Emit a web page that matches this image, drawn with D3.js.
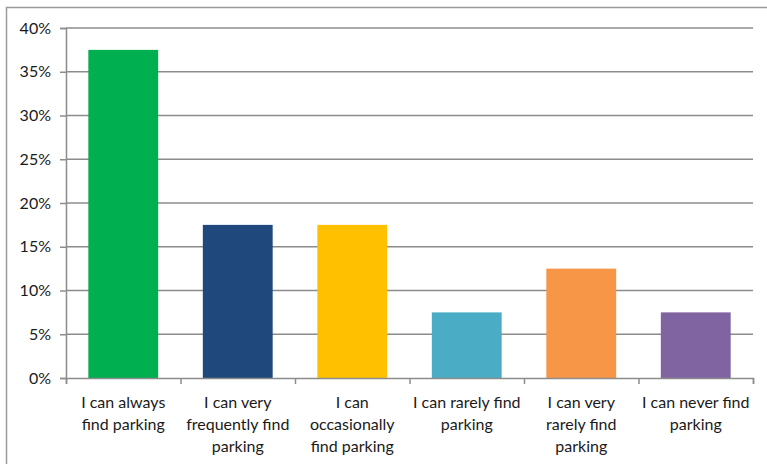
<!DOCTYPE html>
<html>
<head>
<meta charset="utf-8">
<script src="https://cdn.jsdelivr.net/npm/d3@7"></script>
<style>
  body { margin: 0; background: #fff; }
  text { font-family: Lato, "Open Sans", sans-serif; fill: #1a1a1a; }
</style>
</head>
<body>
<div id="chart"></div>
<script>
// chart data
var categories = [
    ["I can always", "find parking"],
    ["I can very", "frequently find", "parking"],
    ["I can", "occasionally", "find parking"],
    ["I can rarely find", "parking"],
    ["I can very", "rarely find", "parking"],
    ["I can never find", "parking"]
];
var values = [0.375, 0.175, 0.175, 0.075, 0.125, 0.075];
var colors = ["#00b050", "#1f497d", "#ffc000", "#4bacc6", "#f79646", "#8064a2"];
var yTicks = [0, 0.05, 0.10, 0.15, 0.20, 0.25, 0.30, 0.35, 0.40];

var W = 767, H = 464;
var margin = { top: 28, right: 14, bottom: 86, left: 66 };
var width = W - margin.left - margin.right,
    height = H - margin.top - margin.bottom;

var svg = d3.select("#chart").append("svg")
    .attr("width", W)
    .attr("height", H);

// outer frame (right and bottom edges fall outside the picture)
svg.append("rect")
    .attr("x", 6.5).attr("y", 7.5)
    .attr("width", W + 10).attr("height", H + 10)
    .attr("fill", "none")
    .attr("stroke", "#9a9a9a")
    .attr("stroke-width", 1.5);

var g = svg.append("g")
    .attr("transform", "translate(" + margin.left + "," + margin.top + ")");

var x = d3.scaleBand()
    .domain(d3.range(categories.length))
    .range([0, width])
    .paddingInner(0.39)
    .paddingOuter(0.195);

var y = d3.scaleLinear()
    .domain([0, 0.40])
    .range([height, 0]);

// gridlines
g.selectAll(".grid")
    .data(yTicks.slice(1))
    .enter().append("line")
    .attr("class", "grid")
    .attr("x1", 0).attr("x2", width)
    .attr("y1", d => y(d)).attr("y2", d => y(d))
    .attr("stroke", "#8c8c8c")
    .attr("stroke-width", 1.5);

// bars
g.selectAll(".bar")
    .data(values)
    .enter().append("rect")
    .attr("class", "bar")
    .attr("x", (d, i) => x(i))
    .attr("y", d => y(d))
    .attr("width", x.bandwidth())
    .attr("height", d => height - y(d))
    .attr("fill", (d, i) => colors[i]);

// y axis
var yAxis = g.append("g")
    .call(d3.axisLeft(y).tickValues(yTicks).tickFormat(d3.format(".0%")).tickSize(6).tickPadding(9));
yAxis.selectAll("text").style("font-size", "16px");

// x axis with ticks at band boundaries
var xb = d3.scaleLinear().domain([0, categories.length]).range([0, width]);
var xAxis = g.append("g")
    .attr("transform", "translate(0," + height + ")")
    .call(d3.axisBottom(xb).ticks(categories.length).tickFormat("").tickSize(6));

[yAxis, xAxis].forEach(function(a) {
    a.select(".domain").attr("stroke", "#8c8c8c").attr("stroke-width", 1.5);
    a.selectAll(".tick line").attr("stroke", "#8c8c8c").attr("stroke-width", 1.5);
});

// category labels
var labels = g.selectAll(".cat")
    .data(categories)
    .enter().append("text")
    .attr("class", "cat")
    .attr("text-anchor", "middle")
    .attr("transform", (d, i) => "translate(" + (x(i) + x.bandwidth() / 2) + "," + (height + 30) + ")")
    .style("font-size", "16px");

labels.selectAll("tspan")
    .data(d => d)
    .enter().append("tspan")
    .attr("x", 0)
    .attr("dy", (d, i) => i == 0 ? 0 : 22)
    .text(d => d);
</script>
</body>
</html>
